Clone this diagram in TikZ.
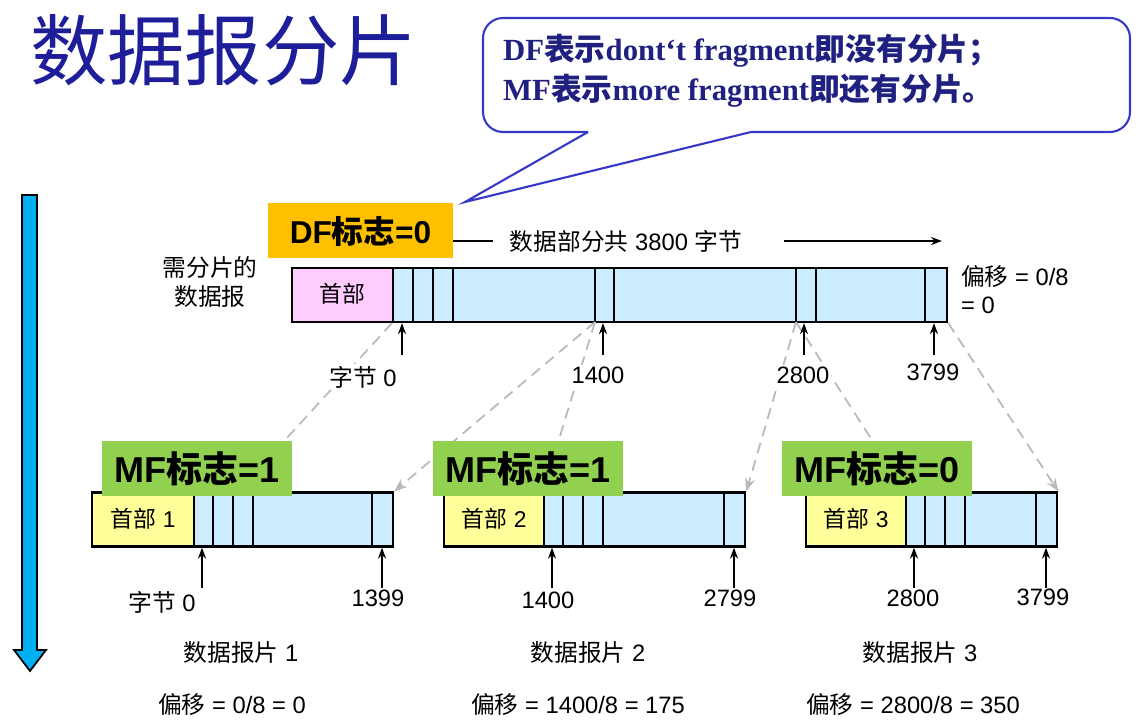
\documentclass[tikz,border=0pt]{standalone}
\usepackage{fontspec}
\setmainfont{Liberation Sans}
\newfontfamily\hei{Noto Sans CJK SC}
\newfontfamily\tms{Liberation Serif}
\newcommand\zh[1]{{\hei #1}}
\usetikzlibrary{arrows.meta}
\definecolor{navy}{RGB}{30,30,155}
\definecolor{notetext}{RGB}{32,32,128}
\definecolor{noteline}{RGB}{55,55,200}
\definecolor{dfgold}{RGB}{255,192,0}
\definecolor{mfgreen}{RGB}{146,208,80}
\definecolor{hdrpink}{RGB}{255,204,255}
\definecolor{hdryellow}{RGB}{255,255,153}
\definecolor{databl}{RGB}{204,236,255}
\definecolor{flowbl}{RGB}{0,176,240}
\definecolor{cutgray}{RGB}{185,185,185}

\begin{document}
\begin{tikzpicture}[
    x=0.2mm, y=-0.2mm,
    seg/.style={draw, line width=1.3pt, inner sep=0pt, minimum height=10.8mm, anchor=west, font=\fontsize{13}{16}\selectfont},
    div/.style={line width=1pt},
    tick/.style={-{Stealth[length=2.2mm,width=1.6mm]}, line width=0.9pt},
    cut/.style={cutgray, line width=1pt, dash pattern=on 2.2mm off 1.4mm},
    cutarr/.style={cut, -{Stealth[length=2.6mm,width=2mm]}},
    flag/.style={minimum width=38mm, minimum height=11mm, inner sep=0pt, font=\fontsize{20.5}{22}\selectfont\bfseries},
    lbl/.style={font=\fontsize{13.5}{16}\selectfont, inner sep=1pt},
  ]
  \useasboundingbox (0,0) rectangle (1141,720);

  % title and note
  \node[anchor=west, inner sep=0pt, text=navy, font=\hei\fontsize{44}{48}\selectfont] (title) at (30,50) {数据报分片};
  \draw[noteline, line width=1.2pt, fill=white, rounded corners=4mm] (588,132) -- (483,132) -- (483,18) -- (1130,18) -- (1130,132) -- (751,132);
  \draw[noteline, line width=1.2pt] (588,132) -- (465,202) -- (751,132);
  \node[anchor=west, align=left, text=notetext, font=\tms\bfseries\fontsize{17.5}{22.7}\selectfont] (note) at (497,71)
    {DF\zh{表示}dont‘t fragment\zh{即没有分片；}\\MF\zh{表示}more fragment\zh{即还有分片。}};

  % flow arrow
  \draw[fill=flowbl, line width=1pt] (22,195) -- (37,195) -- (37,650) -- (46,650) -- (30,671) -- (14,650) -- (22,650) -- cycle;

  % datagram to be cut
  \node[seg, fill=hdrpink, minimum width=20.2mm] (oh) at (291,295) {\raisebox{1mm}{\zh{首部}}};
  \node[seg, fill=databl, minimum width=110.8mm] (od) at (392,295) {};
  \foreach \x in {413,433,453,595,614,796,816,925}
    \draw[div] (\x,268) -- (\x,322);
  \node[lbl, align=center] (need) at (210,282) {\zh{需分片的}\\\zh{数据报}};
  \node[lbl, align=left, anchor=west] (off0) at (959,290) {\zh{偏移} = 0/8\\= 0};

  % fragments
  \foreach \i/\l/\h/\r in {1/91/193/392, 2/443/543/744, 3/805/905/1056} {
    \node[seg, fill=hdryellow, minimum width={(\h-\l)*0.2mm}] (fh\i) at (\l,519.5) {\raisebox{0.6mm}{\zh{首部} \i}};
    \node[seg, fill=databl, minimum width={(\r-\h)*0.2mm}] (fd\i) at (\h,519.5) {};
    \foreach \d in {20,40,60}
      \draw[div] (\h+\d,492) -- (\h+\d,547);
    \draw[div] (\r-20,492) -- (\r-20,547);
    \coordinate (lo\i) at (\h+9,588);
    \coordinate (hi\i) at (\r-10,588);
    \draw[tick] (lo\i) -- (lo\i |- fd\i.south);
    \draw[tick] (hi\i) -- (hi\i |- fd\i.south);
  }

  % cut lines
  \coordinate (c1400) at (595,322);
  \coordinate (c2800) at (796,322);
  \draw[cut] (od.south west) -- ([xshift=9mm]fd1.north west);
  \draw[cut] (c1400) -- (fd2.north west);
  \draw[cut] (c2800) -- (fd3.north west);
  \draw[cutarr] (c1400) -- (fd1.north east);
  \draw[cutarr] (c2800) -- (fd2.north east);
  \draw[cutarr] (od.south east) -- (fd3.north east);

  % byte marks on the datagram
  \foreach \n/\x in {0/402, 1400/603, 2800/804, 3799/934} {
    \coordinate (t\n) at (\x,355);
    \draw[tick] (t\n) -- (t\n |- od.south);
  }
  \node[lbl, fill=white] (b0) at (363,377) {\zh{字节} 0};
  \node[lbl, fill=white] (b1400) at (598,375) {1400};
  \node[lbl, fill=white] (b2800) at (803,375) {2800};
  \node[lbl, fill=white] (b3799) at (933,372) {3799};

  % flags
  \node[flag, fill=dfgold, minimum width=37mm, font=\fontsize{18}{20}\selectfont\bfseries] (df) at (360.5,231) {DF\zh{标志}=0};
  \node[lbl] (total) at (626,241) {\zh{数据部分共} 3800 \zh{字节}};
  \coordinate (tend) at (942,241);
  \draw[line width=1pt] (df.east |- total) -- ([xshift=-3mm]total.west);
  \draw[tick] ([xshift=8mm]total.east) -- (tend);
  \node[flag, fill=mfgreen] (mf1) at (197,468.5) {MF\zh{标志}=1};
  \node[flag, fill=mfgreen] (mf2) at (528,468.5) {MF\zh{标志}=1};
  \node[flag, fill=mfgreen] (mf3) at (877,468.5) {MF\zh{标志}=0};

  % byte marks on the fragments
  \node[lbl] (g0) at (162,602) {\zh{字节} 0};
  \node[lbl] (g1399) at (378,598) {1399};
  \node[lbl] (g1400) at (548,600) {1400};
  \node[lbl] (g2799) at (730,598) {2799};
  \node[lbl] (g2800) at (913,598) {2800};
  \node[lbl] (g3799) at (1043,597) {3799};

  % captions
  \node[lbl] (p1) at (241,653) {\zh{数据报片} 1};
  \node[lbl] (p2) at (588,653) {\zh{数据报片} 2};
  \node[lbl] (p3) at (920,653) {\zh{数据报片} 3};
  \node[lbl] (s1) at (232,704) {\zh{偏移} = 0/8 = 0};
  \node[lbl] (s2) at (578,704) {\zh{偏移} = 1400/8 = 175};
  \node[lbl] (s3) at (913,704) {\zh{偏移} = 2800/8 = 350};
\end{tikzpicture}
\end{document}
